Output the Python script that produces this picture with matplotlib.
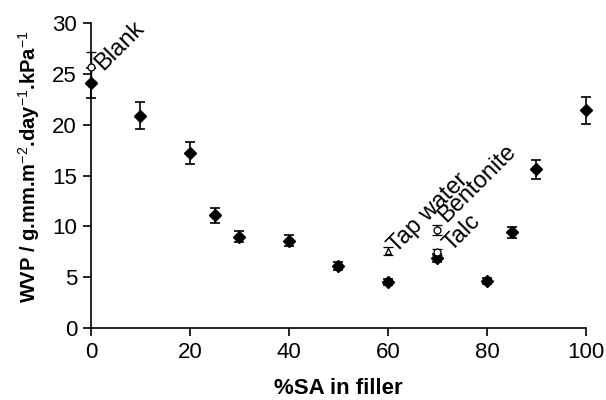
import matplotlib
matplotlib.use("Agg")
import matplotlib.pyplot as plt

plt.rcParams['font.family'] = ['Liberation Sans', 'DejaVu Sans']
plt.rcParams['mathtext.fontset'] = 'custom'
plt.rcParams['mathtext.rm'] = 'Liberation Sans'
plt.rcParams['mathtext.bf'] = 'Liberation Sans:bold'

# Main series (%SA in filler)
sa = [0, 10, 20, 25, 30, 40, 50, 60, 70, 80, 85, 90, 100]
wvp = [24.1, 20.9, 17.2, 11.1, 9.0, 8.6, 6.1, 4.5, 6.9, 4.6, 9.4, 15.6, 21.4]
wvp_err = [1.5, 1.3, 1.1, 0.75, 0.5, 0.5, 0.4, 0.3, 0.4, 0.3, 0.5, 0.9, 1.3]

# Reference samples
ref_names = ["Blank", "Tap water", "Bentonite", "Talc"]
ref_x = [0, 60, 70, 70]
ref_y = [25.7, 7.6, 9.6, 7.5]
ref_err = [1.4, 0.4, 0.5, 0.3]
ref_markers = ["o", "^", "o", "o"]
label_offsets = [(9, -3), (6, -2), (6, 5), (10, 0)]

fig = plt.figure(figsize=(6.06, 4.0), dpi=100)
ax = fig.add_axes([0.150, 0.18, 0.817, 0.7625])

ax.errorbar(sa, wvp, yerr=wvp_err, fmt='D', color='black', markersize=6.5,
            ecolor='black', elinewidth=1.2, capsize=3.5, capthick=1.2, clip_on=False, zorder=3)

for name, x, y, e, m, off in zip(ref_names, ref_x, ref_y, ref_err, ref_markers, label_offsets):
    ax.errorbar([x], [y], yerr=[e], fmt=m, mfc='white', mec='black', mew=0.9,
                markersize=5, ecolor='black', elinewidth=1.0, capsize=3.5, capthick=1.0,
                clip_on=False, zorder=4)
    ax.annotate(name, (x, y), xytext=off, textcoords='offset points',
                rotation=45, fontsize=17, ha='left', va='baseline',
                rotation_mode='anchor', annotation_clip=False)

ax.set_xlim(0, 100)
ax.set_ylim(0, 30)
ax.set_xticks([0, 20, 40, 60, 80, 100])
ax.set_yticks([0, 5, 10, 15, 20, 25, 30])
ax.spines['top'].set_visible(False)
ax.spines['right'].set_visible(False)
for s in ['left', 'bottom']:
    ax.spines[s].set_linewidth(1.2)
ax.tick_params(direction='out', length=6, width=1.2, labelsize=16, pad=4)

ax.set_xlabel("%SA in filler", fontsize=16, fontweight='bold', labelpad=11)
ax.set_ylabel(r"WVP / g.mm.m$^{\mathrm{-2}}$.day$^{\mathrm{-1}}$.kPa$^{\mathrm{-1}}$",
              fontsize=14.5, fontweight='bold')
ax.yaxis.set_label_coords(-0.099, 0.53)

fig.savefig("out.png", dpi=100)
